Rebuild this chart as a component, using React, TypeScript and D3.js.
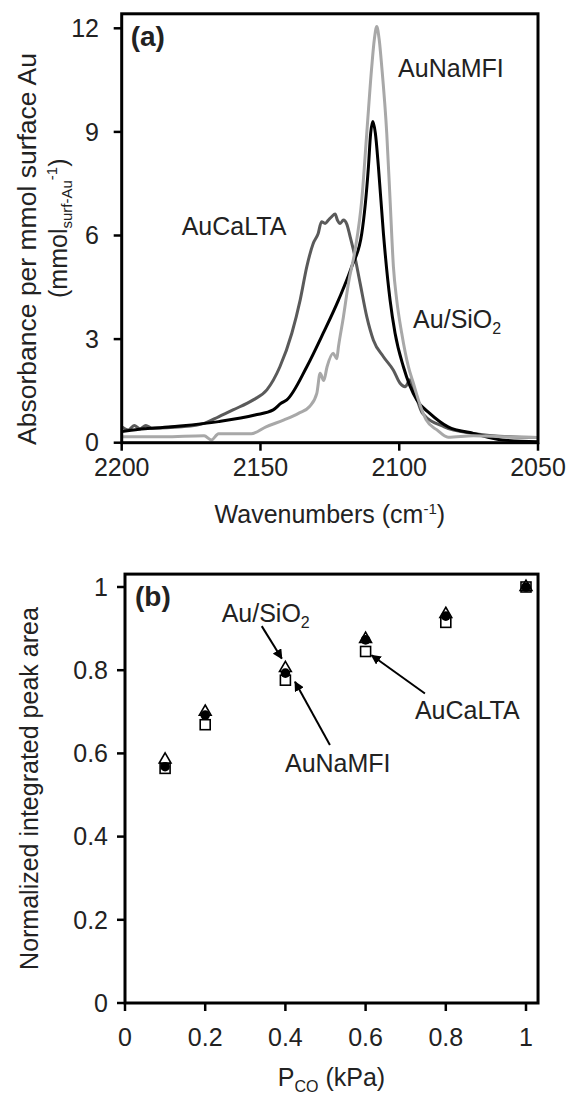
import React from "react";
import * as d3 from "d3";

// ---------- Panel (a) data: IR spectra ----------
const wnNaMFI = [2200, 2184.8, 2170.3, 2167.7, 2165.1, 2153.3, 2148, 2141.5, 2136.3, 2132.3, 2129.7, 2128.5, 2127.2, 2126, 2123.8, 2122.5, 2121.9, 2120.1, 2118.3, 2115.9, 2113.5, 2111.7, 2109.9, 2109, 2108.1, 2107.2, 2106.3, 2104.5, 2103.3, 2102.1, 2100.9, 2099.1, 2096.7, 2094.9, 2093.1, 2090.3, 2086.4, 2082.4, 2073.3, 2062, 2050];
const absNaMFI = [0.17, 0.17, 0.2, 0.08, 0.26, 0.26, 0.46, 0.66, 0.85, 1.05, 1.43, 2.01, 1.8, 2.2, 2.59, 2.43, 2.78, 3.65, 4.62, 5.58, 7.03, 8.96, 10.89, 11.66, 12.05, 11.66, 10.89, 8.96, 7.03, 5.1, 4.13, 3.17, 2.2, 1.72, 1.24, 0.66, 0.37, 0.16, 0.2, 0.17, 0.15];

const wnSiO2 = [2200, 2196.6, 2182.2, 2165.1, 2152, 2145.4, 2142.6, 2140.5, 2133.3, 2127.4, 2121.9, 2117.1, 2113.5, 2111.1, 2110.3, 2109.5, 2108.6, 2107.5, 2105.7, 2103.3, 2101.5, 2098.5, 2093.7, 2089, 2082.4, 2073.3, 2062.8, 2050];
const absSiO2 = [0.32, 0.36, 0.46, 0.61, 0.8, 0.95, 1.14, 1.24, 2.2, 3.17, 4.13, 5.1, 6.06, 7.99, 8.96, 9.3, 8.96, 7.99, 6.06, 4.13, 3.17, 2.2, 1.24, 0.85, 0.46, 0.27, 0.08, 0.03];

const wnCaLTA = [2200, 2197.6, 2195.5, 2193.4, 2191.3, 2189.2, 2178.3, 2170.3, 2165.1, 2159.9, 2152.6, 2147.7, 2143, 2138.7, 2135.7, 2133.3, 2131, 2129.2, 2128, 2126.7, 2125.5, 2124.3, 2123.1, 2122.3, 2121.3, 2120.1, 2118.9, 2117.7, 2116.5, 2114.1, 2111.7, 2109.3, 2105.7, 2102.1, 2099.7, 2097.9, 2096.1, 2094.3, 2091.6, 2083.8, 2073.3, 2060.2, 2050];
const absCaLTA = [0.46, 0.37, 0.5, 0.4, 0.5, 0.42, 0.46, 0.56, 0.75, 0.95, 1.24, 1.53, 2.2, 3.17, 4.13, 5.1, 5.77, 6.06, 6.4, 6.35, 6.45, 6.55, 6.62, 6.45, 6.35, 6.45, 6.33, 5.97, 5.58, 4.62, 3.65, 2.97, 2.49, 2.1, 1.72, 1.62, 1.82, 1.43, 0.85, 0.46, 0.27, 0.17, 0.15];

const ticksA_x = [2200, 2150, 2100, 2050];
const ticksA_y = [0, 3, 6, 9, 12];

// ---------- Panel (b) data: normalized peak area ----------
const pCO = [0.1, 0.2, 0.4, 0.6, 0.8, 1.0];
const areaSiO2 = [0.585, 0.7, 0.805, 0.875, 0.935, 1.0];
const areaNaMFI = [0.568, 0.692, 0.793, 0.873, 0.93, 1.0];
const areaCaLTA = [0.564, 0.669, 0.776, 0.845, 0.915, 1.0];
const ticksB = [0, 0.2, 0.4, 0.6, 0.8, 1];

const FONT = "Liberation Sans, Arial, Helvetica, sans-serif";
const FS = 25;

export default function App() {
  const W = 571, H = 1095;

  // Panel (a) scales
  const xA = d3.scaleLinear().domain([2200, 2050]).range([121.7, 538]);
  const yA = d3.scaleLinear().domain([0, 12]).range([442.7, 28.3]);
  const yAtop = yA(12.42);
  const lineA = d3
    .line<[number, number]>()
    .x((d) => xA(d[0]))
    .y((d) => yA(d[1]))
    .curve(d3.curveMonotoneX);
  const mk = (w: number[], a: number[]) => w.map((v, i) => [v, a[i]] as [number, number]);

  // Panel (b) scales
  const xB = d3.scaleLinear().domain([0, 1]).range([125, 526]);
  const yB = d3.scaleLinear().domain([0, 1]).range([1003, 587]);
  const xBmax = xB(1.03);
  const yBtop = yB(1.031);

  const sq = 10;
  const tri = d3.symbol().type(d3.symbolTriangle).size(60)();

  return (
    <div style={{ position: "absolute", left: 0, top: 0 }}>
      <svg width={W} height={H} style={{ display: "block", background: "#fff" }} fontFamily={FONT}>
        <defs>
          <marker id="arr" viewBox="0 0 10 10" refX="9" refY="5" markerWidth="5" markerHeight="5" orient="auto">
            <path d="M0,0 L10,5 L0,10 z" fill="#000" />
          </marker>
        </defs>

        {/* ================= Panel (a) ================= */}
        <g>
          {ticksA_y.map((t) => (
            <g key={"ya" + t}>
              <line x1={xA(2200) - 8} x2={xA(2200)} y1={yA(t)} y2={yA(t)} stroke="#000" strokeWidth={2.5} />
              <text x={99} y={yA(t)} dy="0.35em" textAnchor="end" fontSize={FS} fill="#222">{t}</text>
            </g>
          ))}
          {ticksA_x.map((t) => (
            <g key={"xa" + t}>
              <line x1={xA(t)} x2={xA(t)} y1={yA(0)} y2={yA(0) + 8} stroke="#000" strokeWidth={2.5} />
              <text x={xA(t)} y={476} textAnchor="middle" fontSize={FS} fill="#222">{t}</text>
            </g>
          ))}

          <path d={lineA(mk(wnCaLTA, absCaLTA)) || ""} fill="none" stroke="#5a5a5a" strokeWidth={3} />
          <path d={lineA(mk(wnSiO2, absSiO2)) || ""} fill="none" stroke="#000" strokeWidth={3} />
          <path d={lineA(mk(wnNaMFI, absNaMFI)) || ""} fill="none" stroke="#a8a8a8" strokeWidth={3} />

          <rect x={xA(2200)} y={yAtop} width={xA(2050) - xA(2200)} height={yA(0) - yAtop} fill="none" stroke="#000" strokeWidth={3} />

          <text x={xA(2200) + 9} y={46} fontSize={28} fontWeight="bold" fill="#222">(a)</text>
          <text x={xA(2100.4)} y={yA(10.58)} fontSize={FS} fill="#222">AuNaMFI</text>
          <text x={xA(2178.4)} y={yA(6.02)} fontSize={FS} fill="#222">AuCaLTA</text>
          <text x={xA(2095)} y={yA(3.32)} fontSize={FS} fill="#222">
            Au/SiO<tspan fontSize={16} dy={6}>2</tspan>
          </text>

          <text x={(xA(2200) + xA(2050)) / 2} y={523} textAnchor="middle" fontSize={FS} fill="#222">
            Wavenumbers (cm<tspan fontSize={15} dy={-9}>-1</tspan><tspan dy={9}>)</tspan>
          </text>

          <text transform={`translate(36,249) rotate(-90)`} textAnchor="middle" fontSize={26.5} fill="#222">
            Absorbance per mmol surface Au
          </text>
          <text transform={`translate(67,${(yAtop + yA(0)) / 2}) rotate(-90)`} textAnchor="middle" fontSize={FS} fill="#222">
            (mmol<tspan fontSize={15} dy={5}>surf-Au</tspan><tspan fontSize={15} dy={-15}>-1</tspan><tspan dy={10}>)</tspan>
          </text>
        </g>

        {/* ================= Panel (b) ================= */}
        <g>
          {ticksB.map((t) => (
            <g key={"yb" + t}>
              <line x1={xB(0) - 8} x2={xB(0)} y1={yB(t)} y2={yB(t)} stroke="#000" strokeWidth={2.5} />
              <text x={108} y={yB(t)} dy="0.35em" textAnchor="end" fontSize={FS} fill="#222">{t}</text>
            </g>
          ))}
          {ticksB.map((t) => (
            <g key={"xb" + t}>
              <line x1={xB(t)} x2={xB(t)} y1={yB(0)} y2={yB(0) + 8} stroke="#000" strokeWidth={2.5} />
              <text x={xB(t)} y={1046} textAnchor="middle" fontSize={FS} fill="#222">{t}</text>
            </g>
          ))}

          {pCO.map((p, i) => (
            <rect key={"sq" + i} x={xB(p) - sq / 2} y={yB(areaCaLTA[i]) - sq / 2} width={sq} height={sq} fill="#fff" stroke="#000" strokeWidth={1.6} />
          ))}
          {pCO.map((p, i) => (
            <path key={"tr" + i} d={tri || ""} transform={`translate(${xB(p)},${yB(areaSiO2[i])})`} fill="#fff" stroke="#000" strokeWidth={1.6} />
          ))}
          {pCO.map((p, i) => (
            <circle key={"ci" + i} cx={xB(p)} cy={yB(areaNaMFI[i])} r={4.8} fill="#000" />
          ))}

          <rect x={xB(0)} y={yBtop} width={xBmax - xB(0)} height={yB(0) - yBtop} fill="none" stroke="#000" strokeWidth={3} />

          {/* annotations */}
          <line x1={xB(0.341)} y1={yB(0.906)} x2={xB(0.391)} y2={yB(0.828)} stroke="#000" strokeWidth={2} markerEnd="url(#arr)" />
          <line x1={xB(0.511)} y1={yB(0.62)} x2={xB(0.424)} y2={yB(0.772)} stroke="#000" strokeWidth={2} markerEnd="url(#arr)" />
          <line x1={xB(0.748)} y1={yB(0.744)} x2={xB(0.615)} y2={yB(0.836)} stroke="#000" strokeWidth={2} markerEnd="url(#arr)" />

          <text x={xB(0) + 10} y={606} fontSize={28} fontWeight="bold" fill="#222">(b)</text>
          <text x={xB(0.241)} y={yB(0.917)} fontSize={FS} fill="#222">
            Au/SiO<tspan fontSize={16} dy={6}>2</tspan>
          </text>
          <text x={xB(0.399)} y={yB(0.556)} fontSize={FS} fill="#222">AuNaMFI</text>
          <text x={xB(0.723)} y={yB(0.683)} fontSize={FS} fill="#222">AuCaLTA</text>

          <text x={(xB(0) + xBmax) / 2} y={1086} textAnchor="middle" fontSize={FS} fill="#222">
            P<tspan fontSize={16} dy={6}>CO</tspan><tspan dy={-6}> (kPa)</tspan>
          </text>
          <text transform={`translate(38,${(yBtop + yB(0)) / 2}) rotate(-90)`} textAnchor="middle" fontSize={FS} fill="#222">
            Normalized integrated peak area
          </text>
        </g>
      </svg>
    </div>
  );
}
